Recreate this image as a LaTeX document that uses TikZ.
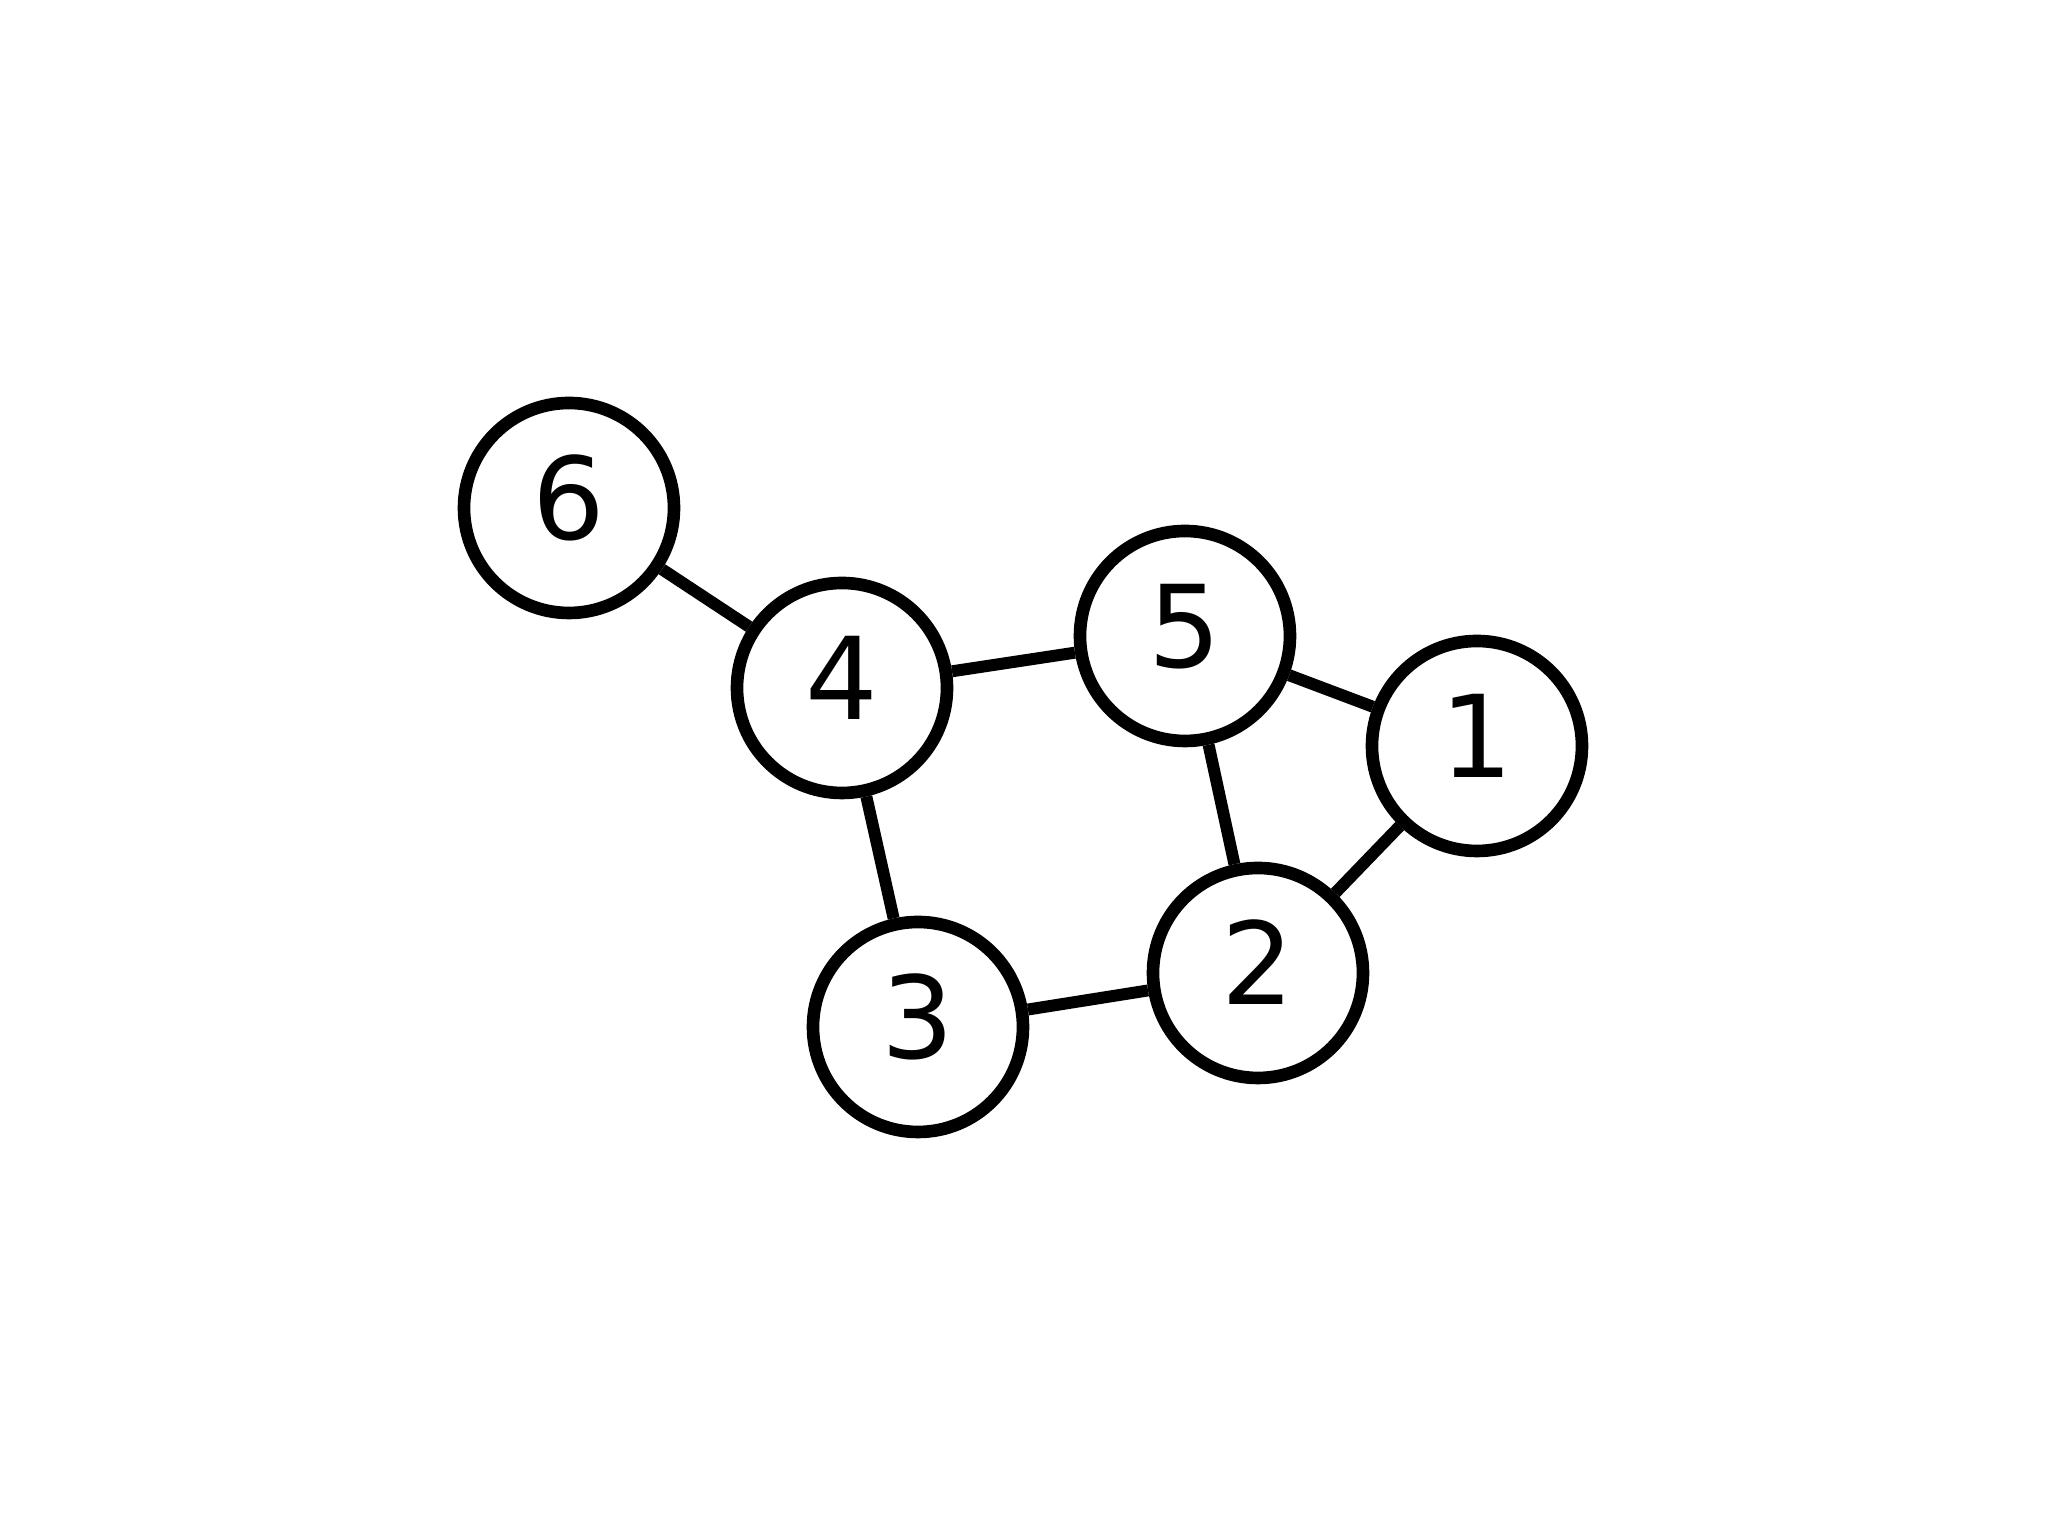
\documentclass[tikz,border=0pt]{standalone}
\usepackage{fontspec}
\setmainfont{DejaVu Sans}
\begin{document}
\begin{tikzpicture}[
  vtx/.style={circle,draw=black,line width=3.6pt,fill=white,minimum size=2.10cm,inner sep=0pt,
    text height=0.835cm,text depth=0.21cm,font=\fontsize{32.5}{38}\selectfont},
  edge/.style={line width=3.4pt,draw=black}]
\useasboundingbox (0,0) rectangle (20.48,15.36);
\node[vtx] (n6) at (5.69,10.28) {6};
\node[vtx] (n4) at (8.42,8.48) {4};
\node[vtx] (n5) at (11.85,9.00) {5};
\node[vtx] (n1) at (14.77,7.90) {1};
\node[vtx] (n2) at (12.58,5.63) {2};
\node[vtx] (n3) at (9.18,5.09) {3};
\draw[edge] (n6) -- (n4);
\draw[edge] (n4) -- (n5);
\draw[edge] (n4) -- (n3);
\draw[edge] (n5) -- (n1);
\draw[edge] (n5) -- (n2);
\draw[edge] (n1) -- (n2);
\draw[edge] (n3) -- (n2);
\end{tikzpicture}
\end{document}
